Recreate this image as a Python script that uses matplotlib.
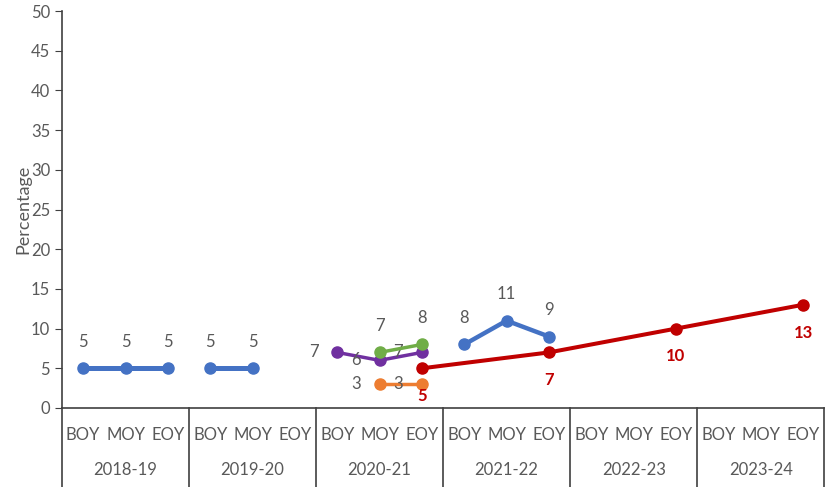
import numpy as np
import matplotlib
matplotlib.use('Agg')
import matplotlib.pyplot as plt
import matplotlib.transforms as mtransforms

plt.rcParams['font.family'] = ['Lato', 'DejaVu Sans']

# categories
years = ['2018-19', '2019-20', '2020-21', '2021-22', '2022-23', '2023-24']
terms = ['BOY', 'MOY', 'EOY']
nan = np.nan

# series values, 18 slots (year x term)
blue_a = [5, 5, 5] + [nan] * 15
blue_b = [nan] * 3 + [5, 5, nan] + [nan] * 12
blue_c = [nan] * 9 + [8, 11, 9] + [nan] * 6
purple = [nan] * 6 + [7, 6, 7] + [nan] * 9
green = [nan] * 6 + [nan, 7, 8] + [nan] * 9
orange = [nan] * 6 + [nan, 3, 3] + [nan] * 9
red = [nan] * 6 + [nan, nan, 5] + [nan, nan, 7] + [nan, nan, 10] + [nan, nan, 13]

gray = '#595959'
x = np.arange(len(years) * len(terms))

fig = plt.figure(figsize=(8.25, 4.87), dpi=100)
ax = fig.add_axes([62 / 825, 79 / 487, 1 - 62 / 825 - 0.001, 397 / 487])


def draw(vals, color, lw, pos, txtcolor=gray, bold=False, connect=False):
    v = np.array(vals, dtype=float)
    m = ~np.isnan(v)
    xs, ys = (x[m], v[m]) if connect else (x, v)
    ax.plot(xs, ys, color=color, lw=lw, marker='o', ms=8,
            solid_capstyle='round', zorder=3)
    off = {'above': (0, 19), 'below': (0, -20), 'left': (-17, 0)}[pos]
    for xi, yi in zip(x[m], v[m]):
        ax.annotate('%d' % yi, (xi, yi), textcoords='offset points', xytext=off,
                    ha='center', va='center', fontsize=12, color=txtcolor,
                    fontweight='bold' if bold else 'normal')


draw(blue_a, '#4472C4', 3.6, 'above')
draw(blue_b, '#4472C4', 3.6, 'above')
draw(blue_c, '#4472C4', 3.2, 'above')
draw(purple, '#7030A0', 2.5, 'left')
draw(green, '#70AD47', 2.5, 'above')
draw(orange, '#ED7D31', 2.5, 'left')
draw(red, '#C00000', 2.9, 'below', txtcolor='#C00000', bold=True, connect=True)

ax.set_xlim(-0.5, len(x) - 0.5)
ax.set_ylim(0, 50)
ax.set_yticks(np.arange(0, 51, 5))
ax.tick_params(axis='y', direction='out', length=5, colors=gray, labelsize=12)
ax.tick_params(axis='y', color='#404040')
ax.set_xticks(x)
ax.set_xticklabels(terms * len(years))
ax.tick_params(axis='x', length=0, pad=14, colors=gray, labelsize=12)
for s in ['top', 'right']:
    ax.spines[s].set_visible(False)
for s in ['left', 'bottom']:
    ax.spines[s].set_color('#404040')
    ax.spines[s].set_linewidth(1.2)
ax.set_ylabel('Percentage', color=gray, fontsize=13, labelpad=0)

# table-like category axis
trans = mtransforms.blended_transform_factory(ax.transData, ax.transAxes)
depth = -79 / 397
for i in range(len(years) + 1):
    ax.plot([i * 3 - 0.5] * 2, [0, depth], transform=trans, color='#404040',
            lw=1.2, clip_on=False)
for i, yr in enumerate(years):
    ax.text(i * 3 + 1, -62 / 397, yr, transform=trans, ha='center',
            va='center', fontsize=12, color=gray)

fig.savefig('out.png', dpi=100)
